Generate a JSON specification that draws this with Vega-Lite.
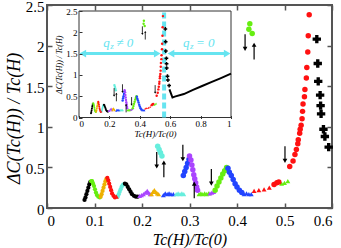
{
"$schema": "https://vega.github.io/schema/vega-lite/v6.json",
"width": 285, "height": 203,
"autosize": {"type": "none"},
"padding": {"left": 47, "top": 5, "right": 9, "bottom": 40},
"background": "white",
"config": {"view": {"stroke": "#555", "strokeWidth": 2}},
"datasets": {
"pts": [
{"x":0.079,"y":0.10,"c":"k","m":"d"},{"x":0.081,"y":0.13,"c":"k","m":"d"},{"x":0.083,"y":0.17,"c":"k","m":"d"},{"x":0.085,"y":0.21,"c":"k","m":"d"},{"x":0.087,"y":0.25,"c":"k","m":"d"},{"x":0.089,"y":0.29,"c":"k","m":"d"},{"x":0.091,"y":0.32,"c":"k","m":"d"},
{"x":0.093,"y":0.33,"c":"g","m":"d"},{"x":0.095,"y":0.33,"c":"g","m":"d"},{"x":0.097,"y":0.30,"c":"g","m":"d"},{"x":0.099,"y":0.27,"c":"g","m":"d"},{"x":0.101,"y":0.23,"c":"g","m":"d"},{"x":0.103,"y":0.19,"c":"g","m":"d"},{"x":0.105,"y":0.16,"c":"g","m":"d"},{"x":0.108,"y":0.14,"c":"g","m":"d"},{"x":0.111,"y":0.13,"c":"g","m":"d"},
{"x":0.113,"y":0.14,"c":"o","m":"d"},{"x":0.115,"y":0.17,"c":"o","m":"d"},{"x":0.117,"y":0.21,"c":"o","m":"d"},{"x":0.119,"y":0.25,"c":"o","m":"d"},{"x":0.121,"y":0.29,"c":"o","m":"d"},{"x":0.123,"y":0.33,"c":"o","m":"d"},{"x":0.125,"y":0.36,"c":"o","m":"d"},
{"x":0.127,"y":0.37,"c":"r","m":"d"},{"x":0.129,"y":0.34,"c":"r","m":"d"},{"x":0.131,"y":0.30,"c":"r","m":"d"},{"x":0.133,"y":0.26,"c":"r","m":"d"},{"x":0.135,"y":0.22,"c":"r","m":"d"},{"x":0.137,"y":0.18,"c":"r","m":"d"},{"x":0.140,"y":0.15,"c":"r","m":"d"},{"x":0.143,"y":0.13,"c":"r","m":"d"},{"x":0.146,"y":0.14,"c":"r","m":"t"},
{"x":0.149,"y":0.14,"c":"c","m":"d"},{"x":0.151,"y":0.17,"c":"c","m":"d"},{"x":0.153,"y":0.20,"c":"c","m":"d"},{"x":0.155,"y":0.23,"c":"c","m":"d"},{"x":0.157,"y":0.26,"c":"c","m":"d"},{"x":0.159,"y":0.28,"c":"c","m":"d"},{"x":0.161,"y":0.29,"c":"c","m":"d"},
{"x":0.164,"y":0.30,"c":"k","m":"d"},{"x":0.167,"y":0.29,"c":"k","m":"d"},{"x":0.170,"y":0.26,"c":"k","m":"d"},{"x":0.173,"y":0.23,"c":"k","m":"d"},{"x":0.176,"y":0.20,"c":"k","m":"d"},{"x":0.179,"y":0.17,"c":"k","m":"d"},{"x":0.183,"y":0.15,"c":"k","m":"d"},{"x":0.187,"y":0.14,"c":"k","m":"d"},{"x":0.191,"y":0.14,"c":"k","m":"d"},
{"x":0.195,"y":0.15,"c":"p","m":"t"},{"x":0.199,"y":0.16,"c":"p","m":"t"},{"x":0.203,"y":0.17,"c":"p","m":"t"},{"x":0.207,"y":0.19,"c":"p","m":"t"},{"x":0.211,"y":0.21,"c":"p","m":"t"},{"x":0.214,"y":0.19,"c":"p","m":"t"},{"x":0.217,"y":0.17,"c":"p","m":"t"},
{"x":0.220,"y":0.17,"c":"o","m":"t"},{"x":0.223,"y":0.20,"c":"o","m":"t"},{"x":0.226,"y":0.22,"c":"o","m":"t"},{"x":0.229,"y":0.20,"c":"o","m":"t"},{"x":0.232,"y":0.18,"c":"o","m":"t"},{"x":0.235,"y":0.17,"c":"o","m":"t"},
{"x":0.245,"y":0.16,"c":"b","m":"t"},{"x":0.249,"y":0.18,"c":"b","m":"t"},{"x":0.253,"y":0.17,"c":"b","m":"t"},{"x":0.257,"y":0.18,"c":"b","m":"t"},{"x":0.261,"y":0.17,"c":"b","m":"t"},{"x":0.266,"y":0.17,"c":"b","m":"t"},
{"x":0.272,"y":0.17,"c":"c","m":"t"},{"x":0.276,"y":0.18,"c":"c","m":"t"},{"x":0.280,"y":0.17,"c":"c","m":"t"},{"x":0.284,"y":0.18,"c":"c","m":"t"},{"x":0.288,"y":0.17,"c":"c","m":"t"},
{"x":0.233,"y":0.76,"c":"c","m":"o"},{"x":0.236,"y":0.72,"c":"c","m":"o"},{"x":0.239,"y":0.68,"c":"c","m":"o"},{"x":0.242,"y":0.64,"c":"c","m":"o"},
{"x":0.287,"y":0.40,"c":"b","m":"o"},{"x":0.290,"y":0.45,"c":"b","m":"o"},{"x":0.293,"y":0.50,"c":"b","m":"o"},{"x":0.296,"y":0.55,"c":"b","m":"o"},{"x":0.299,"y":0.60,"c":"b","m":"o"},
{"x":0.300,"y":0.64,"c":"p","m":"o"},{"x":0.303,"y":0.59,"c":"p","m":"o"},{"x":0.305,"y":0.53,"c":"p","m":"o"},{"x":0.307,"y":0.47,"c":"p","m":"o"},{"x":0.309,"y":0.41,"c":"p","m":"o"},{"x":0.311,"y":0.36,"c":"p","m":"o"},{"x":0.313,"y":0.31,"c":"p","m":"o"},{"x":0.315,"y":0.26,"c":"p","m":"o"},{"x":0.317,"y":0.22,"c":"p","m":"o"},
{"x":0.320,"y":0.17,"c":"g","m":"t"},{"x":0.324,"y":0.18,"c":"g","m":"t"},{"x":0.328,"y":0.17,"c":"g","m":"t"},{"x":0.332,"y":0.18,"c":"g","m":"t"},{"x":0.336,"y":0.17,"c":"g","m":"t"},{"x":0.340,"y":0.18,"c":"g","m":"t"},
{"x":0.343,"y":0.18,"c":"p","m":"t"},{"x":0.347,"y":0.19,"c":"p","m":"t"},{"x":0.351,"y":0.20,"c":"p","m":"t"},
{"x":0.354,"y":0.22,"c":"g","m":"o"},{"x":0.358,"y":0.27,"c":"g","m":"o"},{"x":0.362,"y":0.32,"c":"g","m":"o"},{"x":0.366,"y":0.37,"c":"g","m":"o"},{"x":0.370,"y":0.42,"c":"g","m":"o"},{"x":0.374,"y":0.46,"c":"g","m":"o"},{"x":0.378,"y":0.50,"c":"g","m":"o"},
{"x":0.381,"y":0.49,"c":"b","m":"o"},{"x":0.384,"y":0.44,"c":"b","m":"o"},{"x":0.388,"y":0.40,"c":"b","m":"o"},{"x":0.392,"y":0.35,"c":"b","m":"o"},{"x":0.396,"y":0.30,"c":"b","m":"o"},{"x":0.400,"y":0.26,"c":"b","m":"o"},{"x":0.405,"y":0.22,"c":"b","m":"o"},{"x":0.410,"y":0.19,"c":"b","m":"o"},
{"x":0.415,"y":0.17,"c":"b","m":"t"},{"x":0.420,"y":0.18,"c":"b","m":"t"},{"x":0.425,"y":0.17,"c":"b","m":"t"},{"x":0.430,"y":0.17,"c":"b","m":"t"},
{"x":0.436,"y":0.21,"c":"r","m":"t"},{"x":0.446,"y":0.22,"c":"r","m":"t"},{"x":0.457,"y":0.23,"c":"r","m":"t"},{"x":0.468,"y":0.25,"c":"r","m":"t"},
{"x":0.478,"y":0.29,"c":"r","m":"o"},{"x":0.484,"y":0.31,"c":"r","m":"o"},{"x":0.488,"y":0.32,"c":"r","m":"o"},
{"x":0.494,"y":0.30,"c":"g","m":"t"},{"x":0.500,"y":0.31,"c":"g","m":"t"},{"x":0.507,"y":0.33,"c":"g","m":"t"},
{"x":0.511,"y":0.51,"c":"r","m":"o"},{"x":0.518,"y":0.58,"c":"r","m":"o"},{"x":0.522,"y":0.66,"c":"r","m":"o"},{"x":0.525,"y":0.72,"c":"r","m":"o"},{"x":0.528,"y":0.79,"c":"r","m":"o"},{"x":0.529,"y":0.84,"c":"r","m":"o"},{"x":0.532,"y":0.92,"c":"r","m":"o"},{"x":0.533,"y":0.97,"c":"r","m":"o"},{"x":0.535,"y":1.02,"c":"r","m":"o"},{"x":0.537,"y":1.10,"c":"r","m":"o"},{"x":0.538,"y":1.19,"c":"r","m":"o"},{"x":0.539,"y":1.28,"c":"r","m":"o"},{"x":0.542,"y":1.37,"c":"r","m":"o"},{"x":0.543,"y":1.46,"c":"r","m":"o"},{"x":0.546,"y":1.60,"c":"r","m":"o"},{"x":0.547,"y":1.73,"c":"r","m":"o"},{"x":0.549,"y":1.92,"c":"r","m":"o"},{"x":0.550,"y":2.12,"c":"r","m":"o"},{"x":0.552,"y":2.38,"c":"r","m":"o"},
{"x":0.568,"y":2.08,"c":"k","m":"x"},{"x":0.570,"y":1.78,"c":"k","m":"x"},{"x":0.571,"y":1.56,"c":"k","m":"x"},{"x":0.575,"y":1.39,"c":"k","m":"x"},{"x":0.576,"y":1.26,"c":"k","m":"x"},{"x":0.577,"y":1.16,"c":"k","m":"x"},{"x":0.582,"y":0.97,"c":"k","m":"x"},{"x":0.585,"y":0.88,"c":"k","m":"x"},{"x":0.593,"y":0.75,"c":"k","m":"x"},
{"x":0.427,"y":2.27,"c":"g","m":"o"},{"x":0.425,"y":2.20,"c":"g","m":"o"},{"x":0.432,"y":2.15,"c":"g","m":"o"}
],
"arr": [
{"x":0.231,"y0":0.69,"y1":0.51,"s":"triangle-down"},
{"x":0.246,"y0":0.38,"y1":0.56,"s":"triangle-up"},
{"x":0.286,"y0":0.78,"y1":0.60,"s":"triangle-down"},
{"x":0.310,"y0":0.12,"y1":0.30,"s":"triangle-up"},
{"x":0.346,"y0":0.48,"y1":0.30,"s":"triangle-down"},
{"x":0.501,"y0":0.76,"y1":0.58,"s":"triangle-down"},
{"x":0.417,"y0":2.14,"y1":1.96,"s":"triangle-down"},
{"x":0.436,"y0":1.83,"y1":2.01,"s":"triangle-up"}
],
"blk": [
{"x":0.595,"y":0.66},{"x":0.615,"y":0.47},{"x":0.63,"y":0.49},{"x":0.69,"y":0.55},{"x":0.75,"y":0.65},{"x":0.81,"y":0.74},{"x":0.87,"y":0.83},{"x":0.93,"y":0.92},{"x":1.0,"y":1.03}
],
"frm": [{"x0":0,"x1":1,"y0":0,"y1":2.5}],
"dash": [{"x":0.56,"y0":0,"y1":2.5}],
"cya": [{"x0":0.03,"x1":0.51,"y":1.5},{"x0":0.61,"x1":0.97,"y":1.5}],
"cyh": [{"x":0.025,"y":1.5,"s":"triangle-left"},{"x":0.515,"y":1.5,"s":"triangle-right"},{"x":0.605,"y":1.5,"s":"triangle-left"},{"x":0.975,"y":1.5,"s":"triangle-right"}],
"lab": [{"x":0.265,"y":1.76,"t":"≠ 0"},{"x":0.79,"y":1.76,"t":"= 0"}]
},
"layer": [
{
"layer": [
{"data":{"name":"pts"},"transform":[{"filter":"datum.m=='d'"}],
 "mark":{"type":"point","filled":true,"shape":"circle","size":18,"opacity":1},
 "encoding":{
  "x":{"field":"x","type":"quantitative","scale":{"domain":[0,0.6],"nice":false,"zero":false},
   "axis":{"orient":"bottom","values":[0,0.1,0.2,0.3,0.4,0.5,0.6],"format":"~g","grid":false,"domain":false,"tickSize":-5,"tickColor":"#555","tickWidth":1.5,"labelPadding":10,"labelFont":"Liberation Serif","labelFontSize":15,"labelColor":"black","title":"Tc(H)/Tc(0)","titleFont":"Liberation Serif","titleFontStyle":"italic","titleFontWeight":"normal","titleFontSize":16,"titleColor":"black","titleY":31,"titleBaseline":"middle"}},
  "y":{"field":"y","type":"quantitative","scale":{"domain":[0,2.5],"nice":false,"zero":false},
   "axis":{"orient":"left","values":[0,0.5,1,1.5,2,2.5],"format":"~g","grid":false,"domain":false,"tickSize":-5,"tickColor":"#555","tickWidth":1.5,"labelPadding":8,"labelOffset":1,"labelFont":"Liberation Serif","labelFontSize":15,"labelColor":"black","title":"ΔC(Tc(H)) / Tc(H)","titleFont":"Liberation Serif","titleFontStyle":"italic","titleFontWeight":"normal","titleFontSize":18,"titleColor":"black","titleX":-33,"titleY":113,"titleBaseline":"middle"}},
  "color":{"field":"c","type":"nominal","scale":{"domain":["k","g","o","r","c","p","b"],"range":["#000000","#66ee11","#eeb000","#ff1111","#66eedd","#aa44ff","#2244ff"]},"legend":null}
 }},
{"data":{"name":"pts"},"transform":[{"filter":"datum.m=='t'"}],
 "mark":{"type":"point","filled":true,"shape":"triangle-up","size":24,"opacity":1},
 "encoding":{"x":{"field":"x","type":"quantitative","axis":null},"y":{"field":"y","type":"quantitative","axis":null},"color":{"field":"c","type":"nominal","legend":null}}},
{"data":{"name":"pts"},"transform":[{"filter":"datum.m=='o'"}],
 "mark":{"type":"point","filled":true,"shape":"circle","size":30,"opacity":1},
 "encoding":{"x":{"field":"x","type":"quantitative","axis":null},"y":{"field":"y","type":"quantitative","axis":null},"color":{"field":"c","type":"nominal","legend":null}}},
{"data":{"name":"pts"},"transform":[{"filter":"datum.m=='x'"}],
 "mark":{"type":"point","filled":true,"shape":"cross","size":70,"opacity":1},
 "encoding":{"x":{"field":"x","type":"quantitative","axis":null},"y":{"field":"y","type":"quantitative","axis":null},"color":{"field":"c","type":"nominal","legend":null}}},
{"data":{"name":"arr"},
 "mark":{"type":"rule","color":"black","strokeWidth":1.2},
 "encoding":{
  "x":{"field":"x","type":"quantitative","axis":{"orient":"top","values":[0,0.1,0.2,0.3,0.4,0.5,0.6],"labels":false,"domain":false,"grid":false,"tickSize":-5,"tickColor":"#555","tickWidth":1.5,"title":null}},
  "y":{"field":"y0","type":"quantitative","axis":{"orient":"right","values":[0,0.5,1,1.5,2,2.5],"labels":false,"domain":false,"grid":false,"tickSize":-5,"tickColor":"#555","tickWidth":1.5,"title":null}},
  "y2":{"field":"y1"}}},
{"data":{"name":"arr"},
 "mark":{"type":"point","filled":true,"size":22,"opacity":1,"color":"black"},
 "encoding":{"x":{"field":"x","type":"quantitative","axis":null},"y":{"field":"y1","type":"quantitative","axis":null},"shape":{"field":"s","type":"nominal","scale":null}}}
],
"resolve": {"axis": {"x": "independent", "y": "independent"}}
},
{
"layer": [
{"data":{"name":"frm"},
 "mark":{"type":"rect","fill":"white","stroke":"#333","strokeWidth":1},
 "encoding":{
  "x":{"field":"x0","type":"quantitative","scale":{"domain":[0,1],"range":[32,184],"nice":false,"zero":false},
   "axis":{"orient":"bottom","offset":-89.5,"values":[0,0.2,0.4,0.6,0.8,1],"format":"~g","grid":false,"domain":false,"tickSize":-3,"tickColor":"#333","labelPadding":4,"labelFont":"Liberation Serif","labelFontSize":9,"labelColor":"black","title":"Tc(H)/Tc(0)","titleFont":"Liberation Serif","titleFontStyle":"italic","titleFontWeight":"normal","titleFontSize":9,"titleColor":"black","titlePadding":1,"zindex":1}},
  "x2":{"field":"x1"},
  "y":{"field":"y0","type":"quantitative","scale":{"domain":[0,2.5],"range":[112.5,6],"nice":false,"zero":false},
   "axis":{"orient":"left","offset":-32,"values":[0,0.5,1,1.5,2,2.5],"format":"~g","grid":false,"domain":false,"tickSize":-3,"tickColor":"#333","labelPadding":5,"labelFont":"Liberation Serif","labelFontSize":9,"labelColor":"black","title":"ΔC(Tc(H)) / Tc(H)","titleFont":"Liberation Serif","titleFontStyle":"italic","titleFontWeight":"normal","titleFontSize":8,"titleColor":"black","titlePadding":2,"zindex":1}},
  "y2":{"field":"y1"}
 }},
{"data":{"name":"dash"},
 "mark":{"type":"rule","color":"#66e4f0","strokeWidth":4,"strokeDash":[6,3]},
 "encoding":{"x":{"field":"x","type":"quantitative"},"y":{"field":"y0","type":"quantitative"},"y2":{"field":"y1"}}},
{"data":{"name":"cya"},
 "mark":{"type":"rule","color":"#66e4f0","strokeWidth":3},
 "encoding":{"x":{"field":"x0","type":"quantitative"},"x2":{"field":"x1"},"y":{"field":"y","type":"quantitative"}}},
{"data":{"name":"cyh"},
 "mark":{"type":"point","filled":true,"size":60,"opacity":1,"color":"#66e4f0"},
 "encoding":{"x":{"field":"x","type":"quantitative"},"y":{"field":"y","type":"quantitative"},"shape":{"field":"s","type":"nominal","scale":null}}},
{"data":{"name":"lab"},
 "mark":{"type":"text","font":"Liberation Serif","fontStyle":"italic","fontSize":13,"color":"#66e4f0","align":"left","baseline":"middle","dx":-16,"text":"q"},
 "encoding":{"x":{"field":"x","type":"quantitative"},"y":{"field":"y","type":"quantitative"}}},
{"data":{"name":"lab"},
 "mark":{"type":"text","font":"Liberation Serif","fontStyle":"italic","fontSize":9,"color":"#66e4f0","align":"left","baseline":"middle","dx":-9,"dy":3,"text":"z"},
 "encoding":{"x":{"field":"x","type":"quantitative"},"y":{"field":"y","type":"quantitative"}}},
{"data":{"name":"lab"},
 "mark":{"type":"text","font":"Liberation Serif","fontStyle":"italic","fontSize":13,"color":"#66e4f0","align":"left","baseline":"middle","dx":-3},
 "encoding":{"x":{"field":"x","type":"quantitative"},"y":{"field":"y","type":"quantitative"},"text":{"field":"t"}}},
{"data":{"name":"blk"},
 "mark":{"type":"line","color":"black","strokeWidth":2},
 "encoding":{"x":{"field":"x","type":"quantitative"},"y":{"field":"y","type":"quantitative"}}},
{"data":{"name":"pts"},"transform":[{"filter":"datum.m=='d'"}],
 "mark":{"type":"point","filled":true,"shape":"circle","size":4,"opacity":1},
 "encoding":{"x":{"field":"x","type":"quantitative"},"y":{"field":"y","type":"quantitative"},"color":{"field":"c","type":"nominal","legend":null}}},
{"data":{"name":"pts"},"transform":[{"filter":"datum.m=='t'"}],
 "mark":{"type":"point","filled":true,"shape":"triangle-up","size":5,"opacity":1},
 "encoding":{"x":{"field":"x","type":"quantitative"},"y":{"field":"y","type":"quantitative"},"color":{"field":"c","type":"nominal","legend":null}}},
{"data":{"name":"pts"},"transform":[{"filter":"datum.m=='o'"}],
 "mark":{"type":"point","filled":true,"shape":"circle","size":6,"opacity":1},
 "encoding":{"x":{"field":"x","type":"quantitative"},"y":{"field":"y","type":"quantitative"},"color":{"field":"c","type":"nominal","legend":null}}},
{"data":{"name":"pts"},"transform":[{"filter":"datum.m=='x'"}],
 "mark":{"type":"point","filled":true,"shape":"cross","size":14,"opacity":1},
 "encoding":{"x":{"field":"x","type":"quantitative"},"y":{"field":"y","type":"quantitative"},"color":{"field":"c","type":"nominal","legend":null}}},
{"data":{"name":"arr"},
 "mark":{"type":"rule","color":"black","strokeWidth":0.8},
 "encoding":{"x":{"field":"x","type":"quantitative"},"y":{"field":"y0","type":"quantitative"},"y2":{"field":"y1"}}},
{"data":{"name":"arr"},
 "mark":{"type":"point","filled":true,"size":5,"opacity":1,"color":"black"},
 "encoding":{"x":{"field":"x","type":"quantitative"},"y":{"field":"y1","type":"quantitative"},"shape":{"field":"s","type":"nominal","scale":null}}}
]
}
],
"resolve": {"scale": {"x": "independent", "y": "independent"}, "axis": {"x": "independent", "y": "independent"}}
}
